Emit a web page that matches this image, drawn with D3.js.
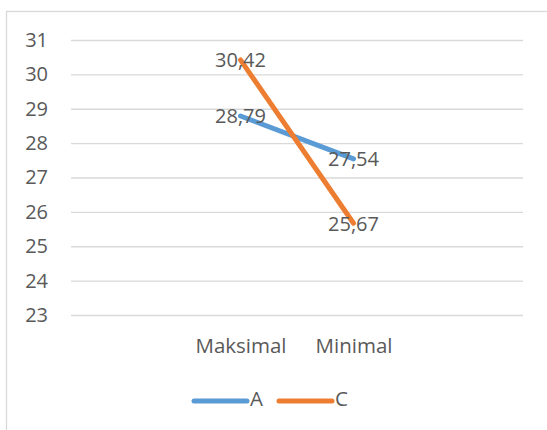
<!DOCTYPE html>
<html>
<head>
<meta charset="utf-8">
<script src="https://cdn.jsdelivr.net/npm/d3@7"></script>
<style>
  body { margin: 0; background: #fff; }
  text { font-family: "Open Sans", sans-serif; fill: #595959; }
</style>
</head>
<body>
<div id="chart"></div>
<script>
const categories = ["Maksimal", "Minimal"];
const seriesA = [28.79, 27.54];
const seriesC = [30.42, 25.67];
const yTicks = [23, 24, 25, 26, 27, 28, 29, 30, 31];

const width = 547,
  height = 430,
  margin = ({ top: 40, right: 24, bottom: 115, left: 71 });

const svg = d3.select("#chart")
  .append("svg")
  .attr("width", width)
  .attr("height", height);

// chart area border (runs off the right and bottom edges)
svg.append("rect")
  .attr("x", 6.5)
  .attr("y", 11.5)
  .attr("width", width + 10)
  .attr("height", height + 10)
  .attr("fill", "none")
  .attr("stroke", "#d9d9d9")
  .attr("stroke-width", 1.3);

let x = d3.scalePoint()
  .domain(categories)
  .range([margin.left, width - margin.right])
  .padding(1.5);

let y = d3.scaleLinear()
  .domain([23, 31])
  .range([height - margin.bottom, margin.top]);

// gridlines + tick labels
let yAxis = svg.append("g")
  .attr("transform", `translate(${margin.left},0)`)
  .call(d3.axisLeft(y).tickValues(yTicks).tickSize(-(width - margin.left - margin.right)).tickPadding(23));
yAxis.select(".domain").remove();
yAxis.selectAll(".tick line").attr("stroke", "#d9d9d9").attr("stroke-width", 1.3);
yAxis.selectAll(".tick text")
  .style("font-family", "'Open Sans', sans-serif")
  .style("font-size", "20px")
  .attr("fill", "#595959");

// category labels
let xAxis = svg.append("g")
  .attr("transform", `translate(0,${height - margin.bottom})`)
  .call(d3.axisBottom(x).tickSize(0).tickPadding(23));
xAxis.select(".domain").remove();
xAxis.selectAll(".tick text")
  .style("font-family", "'Open Sans', sans-serif")
  .style("font-size", "20.5px")
  .attr("fill", "#595959");

const series = [
  { name: "A", values: seriesA, color: "#5b9bd5" },
  { name: "C", values: seriesC, color: "#ed7d31" }
];

let line = d3.line()
  .x((d, i) => x(categories[i]))
  .y(d => y(d));

let g = svg.append("g").attr("class", "data");

for (let s of series) {
  g.append("path")
    .datum(s.values)
    .attr("fill", "none")
    .attr("stroke", s.color)
    .attr("stroke-width", 5)
    .attr("stroke-linecap", "round")
    .attr("d", line);
}

// data labels, centered on the points
for (let s of series) {
  g.selectAll(null)
    .data(s.values)
    .join("text")
    .text(d => d.toFixed(2).replace(".", ","))
    .attr("x", (d, i) => x(categories[i]))
    .attr("y", d => y(d) + 2)
    .attr("text-anchor", "middle")
    .attr("dominant-baseline", "middle")
    .style("font-size", "20px");
}

// legend
let legend = svg.append("g");
let lx = [194, 279];
series.forEach((s, i) => {
  legend.append("line")
    .attr("x1", lx[i]).attr("x2", lx[i] + 53)
    .attr("y1", 401).attr("y2", 401)
    .attr("stroke", s.color)
    .attr("stroke-width", 5)
    .attr("stroke-linecap", "round");
  legend.append("text")
    .text(s.name)
    .attr("x", lx[i] + 56)
    .attr("y", 401)
    .attr("dominant-baseline", "middle")
    .style("font-size", "20.5px");
});
</script>
</body>
</html>
